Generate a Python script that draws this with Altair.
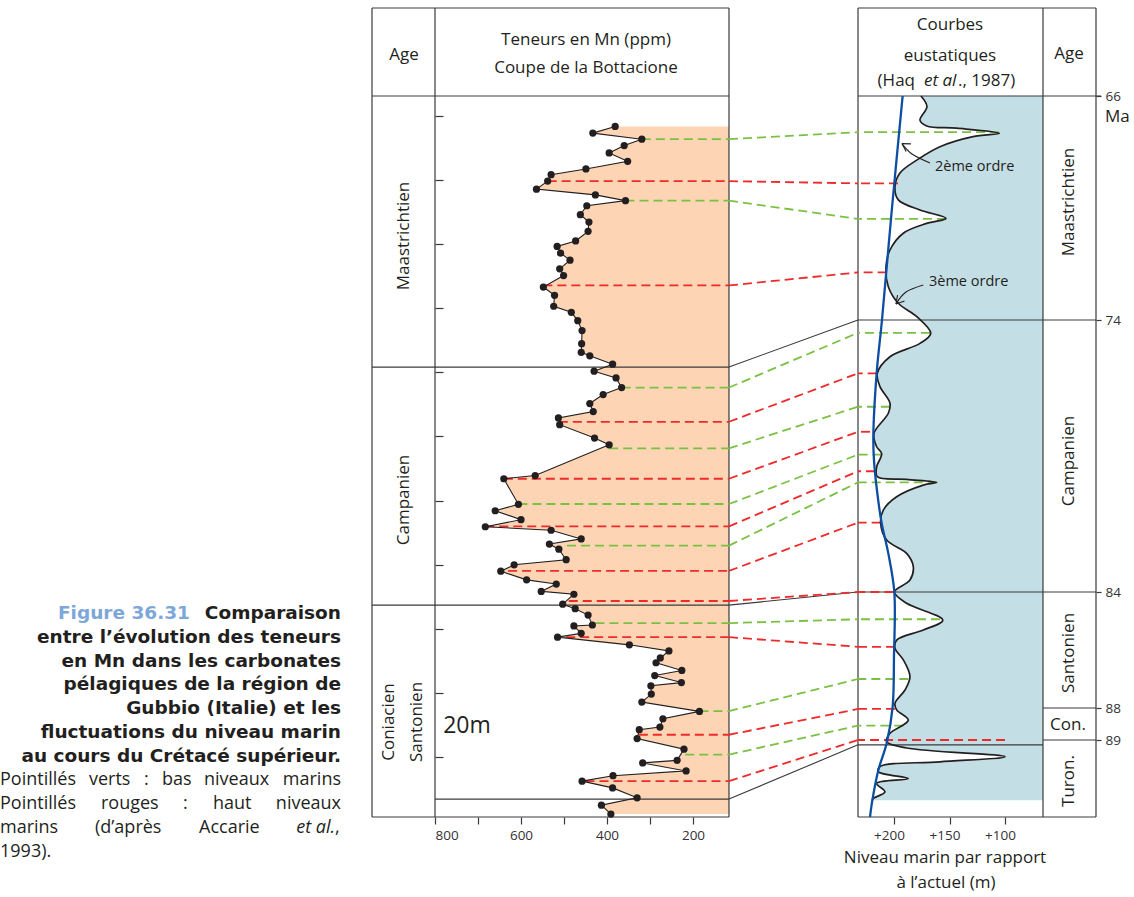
import altair as alt
import numpy as np
import pandas as pd

# ---------------- data ----------------
# Mn content (ppm) vs. stratigraphic height (m) in the Bottaccione section
MN_PPM = [381, 433, 319, 360, 395, 352, 449, 530, 538, 564, 427, 357, 447, 462, 442, 444,
          473, 516, 508, 486, 510, 501, 548, 522, 524, 483, 468, 458, 459, 460, 440, 387,
          430, 379, 366, 409, 440, 432, 513, 510, 429, 395, 567, 640, 606, 660, 600, 683,
          530, 460, 534, 512, 495, 616, 647, 587, 518, 553, 477, 503, 474, 444, 434, 477,
          460, 515, 348, 256, 276, 286, 226, 289, 227, 298, 297, 319, 185, 270, 277, 325,
          330, 221, 237, 317, 216, 386, 458, 387, 330, 413, 391]
MN_H = [216.9, 214.8, 212.9, 210.9, 208.6, 206.0, 203.6, 201.8, 199.8, 197.3, 195.5, 193.7,
        192.1, 189.3, 187.0, 184.1, 181.1, 179.4, 177.3, 175.1, 172.4, 170.3, 166.7, 164.1,
        160.7, 158.8, 156.2, 153.1, 149.0, 146.3, 145.2, 142.6, 140.4, 138.3, 135.3, 133.1,
        130.3, 127.8, 125.8, 123.7, 119.5, 117.4, 107.8, 106.8, 98.8, 96.8, 94.0, 91.8,
        90.7, 88.0, 86.4, 84.8, 81.5, 79.9, 77.9, 75.2, 73.9, 71.6, 70.7, 67.6, 66.2, 64.2,
        61.1, 60.8, 58.5, 57.3, 54.9, 53.0, 50.8, 49.3, 46.9, 45.3, 43.1, 42.1, 39.5, 37.0,
        34.1, 31.8, 29.2, 28.4, 25.6, 22.3, 18.8, 18.0, 15.5, 14.0, 12.3, 10.2, 7.1, 4.8, 2.0]

# 3rd-order eustatic curve (sea level above present, m) vs. age (Ma)
EUS_SL = [175.7, 170.3, 176.6, 170.5, 143.5, 105.1, 128.8, 158.6, 179.5, 194.6, 199.1, 196.1,
          176.6, 153.2, 170.5, 191.6, 203.6, 207.2, 205.1, 196.1, 179.5, 166.9, 176.6, 203.6,
          215.0, 212.6, 203.6, 205.1, 218.0, 215.6, 211.1, 215.6, 215.0, 188.6, 161.5, 173.6,
          197.6, 209.6, 212.0, 206.6, 188.6, 182.6, 185.6, 199.7, 188.6, 156.1, 173.6, 197.6,
          199.1, 191.6, 185.6, 190.1, 199.1, 197.6, 187.1, 203.6, 206.6, 188.6, 100.0, 158.6,
          212.6, 214.1, 187.1, 215.6, 208.1, 218.6, 219.5]
EUS_AGE = [66.0, 66.38, 66.86, 67.07, 67.15, 67.33, 67.45, 67.81, 68.29, 68.75, 69.24, 69.71,
           70.07, 70.37, 70.55, 70.90, 71.5, 72.1, 72.81, 73.4, 73.88, 74.49, 74.86, 75.35,
           75.96, 76.45, 77.06, 77.43, 78.17, 78.66, 78.91, 79.40, 79.76, 79.86, 79.97, 80.07,
           80.5, 80.99, 81.47, 82.09, 82.58, 83.07, 83.56, 84.0, 84.39, 84.97, 85.31, 85.66,
           85.94, 86.34, 86.92, 87.38, 87.84, 88.06, 88.38, 88.79, 89.05, 89.25, 89.52, 89.68,
           89.83, 89.99, 90.2, 90.35, 90.62, 90.82, 90.88]

# 2nd-order trend (blue line)
TREND_SL = [192.2, 201.8, 210.8, 215.6, 218.6, 218.0, 215.0, 211.1, 205.1, 199.7, 200.0,
            201.2, 206.6, 214.1, 219.5, 221.6]
TREND_AGE = [66.0, 70.0, 74.0, 75.95, 78.29, 79.15, 80.37, 81.47, 82.58, 84.0, 86.23,
             87.96, 89.10, 89.94, 90.88, 91.4]

# correlations (dashed): kind, height in section, Mn at start, age, sea level at end
LINK_KIND = ["vert", "rouge", "vert", "rouge", "vert", "rouge", "vert", "rouge", "vert",
             "rouge", "vert", "rouge", "rouge", "vert", "rouge", "vert", "rouge", "vert", "rouge"]
LINK_H = [212.9, 199.8, 193.7, 167.2, 135.3, 124.6, 116.3, 106.8, 98.9, 91.9, 85.9, 78.0,
          68.6, 61.7, 57.3, 34.2, 26.8, 20.6, 12.3]
LINK_PPM = [319, 538, 357, 548, 366, 512, 395, 640, 606, 683, 493, 630, 489, 427, 495, 185,
            326, 218, 450]
LINK_AGE = [67.29, 69.12, 70.39, 72.30, 74.47, 75.96, 77.19, 78.11, 78.95, 79.56, 79.97,
            81.45, 84.0, 84.94, 85.89, 87.0, 88.03, 88.55, 89.0]
LINK_SL = [105.4, 196.4, 153.2, 206.6, 167.6, 215.6, 203.6, 221.6, 211.1, 217.1, 161.5,
           212.0, 200.6, 158.6, 199.1, 187.1, 199.1, 191.6, 100.0]

# stage boundaries: height in section <-> age
STAGE_H = [141.7, 67.3, 6.7]
STAGE_AGE = [74.0, 84.0, 89.15]
AGE_COL_LINES = [74, 84, 88, 89]

DEPTH_TICKS = [20, 40, 60, 80, 100, 120, 140, 160, 180, 200, 220]
MN_TICKS = [800, 700, 600, 500, 400, 300, 200]
SL_TICKS = [200, 150, 100]
AGE_TICKS = [66, 74, 84, 88, 89]

# annotation arrows (sea level, age): shafts, then head barbs (tip -> barb end)
ARROW1_SL = [167.6, 183.8, 192.8]
ARROW1_AGE = [68.39, 68.07, 67.70]
ARROW2_SL = [173.6, 189.2, 198.2]
ARROW2_AGE = [72.75, 73.0, 73.43]
BARB_TIP_SL = [192.8, 192.8, 198.2, 198.2]
BARB_TIP_AGE = [67.70, 67.70, 73.43, 73.43]
BARB_END_SL = [184.7, 189.1, 190.5, 196.8]
BARB_END_AGE = [67.71, 67.98, 73.32, 73.11]

# ---------------- scales / layout ----------------
W, H = 1134, 897
FONT = "Open Sans"
CAP_FONT = "DejaVu Sans"
INK = "#231f20"
FRAME = "#3a3a3a"
MN_DOMAIN, MN_RANGE = [800, 116.3], [435, 729]
H_DOMAIN, H_RANGE = [1.1, 226.4], [817, 96]
SL_DOMAIN, SL_RANGE = [232.4, 65.8], [858, 1043]
AGE_DOMAIN = [66, 74, 84, 88, 89, 91.4]
AGE_RANGE = [96, 320, 592, 708, 740, 817]

MN_SCALE = alt.Scale(domain=MN_DOMAIN, range=MN_RANGE, zero=False, nice=False)
H_SCALE = alt.Scale(domain=H_DOMAIN, range=H_RANGE, zero=False, nice=False)
SL_SCALE = alt.Scale(domain=SL_DOMAIN, range=SL_RANGE, zero=False, nice=False)
AGE_SCALE = alt.Scale(domain=AGE_DOMAIN, range=AGE_RANGE, zero=False, nice=False)


def h_as_age(h):
    """Express a section height as the age that sits at the same height on the page."""
    px = np.interp(h, H_DOMAIN, H_RANGE)
    return np.interp(px, AGE_RANGE, AGE_DOMAIN)


ONE = pd.DataFrame({"k": [0]})


def hline(x0, x1, y, color=FRAME, w=1.2):
    return alt.Chart(ONE).mark_rule(color=color, strokeWidth=w).encode(
        x=alt.value(x0), x2=alt.value(x1), y=alt.value(y))


def vline(x, y0, y1, color=FRAME, w=1.2):
    return alt.Chart(ONE).mark_rule(color=color, strokeWidth=w).encode(
        x=alt.value(x), y=alt.value(y0), y2=alt.value(y1))


def label(text, x, y, size=16, angle=0, align="center", color=INK, weight="normal",
          style="normal", font=FONT):
    return alt.Chart(ONE).mark_text(
        text=text, fontSize=size, angle=angle, align=align, baseline="middle",
        color=color, fontWeight=weight, fontStyle=style, font=font).encode(
        x=alt.value(x), y=alt.value(y))


layers = []

# ---------------- left panel: Mn ----------------
mn_df = pd.DataFrame({"ppm": MN_PPM, "h": MN_H, "i": range(len(MN_PPM))})
layers.append(
    alt.Chart(mn_df).mark_area(orient="horizontal", color="#FDD5B4").encode(
        y=alt.Y("h:Q", scale=H_SCALE,
                axis=alt.Axis(orient="right", offset=435 - W, values=DEPTH_TICKS,
                              labels=False, tickSize=8, domain=False, grid=False,
                              title=None, tickColor=FRAME, tickWidth=1.2)),
        x=alt.X("ppm:Q", scale=MN_SCALE,
                axis=alt.Axis(orient="bottom", offset=-80, values=MN_TICKS,
                              labelExpr="datum.value % 200 == 0 ? datum.label : ''",
                              tickSize=7, domain=False, grid=False, title=None,
                              labelFontSize=13.5, labelColor="#333", tickColor=FRAME,
                              tickWidth=1.2, labelFont=FONT, labelPadding=4)),
        x2=alt.datum(MN_DOMAIN[1]))
)

# ---------------- right panel: eustatic fill ----------------
eus_df = pd.DataFrame({"sl": EUS_SL, "age": EUS_AGE, "i": range(len(EUS_SL))})
layers.append(
    alt.Chart(eus_df).mark_area(orient="horizontal", interpolate="catmull-rom",
                                color="#C4DEE5").encode(
        y=alt.Y("age:Q", scale=AGE_SCALE,
                axis=alt.Axis(orient="right", offset=1096 - W, values=AGE_TICKS,
                              tickSize=5, domain=False, grid=False, title=None,
                              labelFontSize=13.5, labelColor="#333", tickColor=FRAME,
                              tickWidth=1.2, labelFont=FONT, labelPadding=4)),
        x=alt.X("sl:Q", scale=SL_SCALE,
                axis=alt.Axis(orient="bottom", offset=-80, values=SL_TICKS,
                              labelExpr="'+' + datum.label", labelOffset=-5,
                              tickSize=7, domain=False, grid=False, title=None,
                              labelFontSize=13.5, labelColor="#333", tickColor=FRAME,
                              tickWidth=1.2, labelFont=FONT, labelPadding=4)),
        x2=alt.datum(SL_DOMAIN[1]))
)

# ---------------- frames ----------------
for y in (8, 96, 817):
    layers.append(hline(372, 729, y))
for x in (372, 435, 729):
    layers.append(vline(x, 8, 817))
for y in (8, 817):
    layers.append(hline(858, 1096, y))
layers.append(hline(858, 1101, 96))
for x in (858, 1043, 1096):
    layers.append(vline(x, 8, 817))

# stage boundaries, left
stage_df = pd.DataFrame({"h": STAGE_H, "age": STAGE_AGE})
stage_df["age_eq"] = h_as_age(stage_df["h"].to_numpy())
layers.append(
    alt.Chart(stage_df.iloc[:2]).mark_rule(color=FRAME, strokeWidth=1.2).encode(
        x=alt.value(372), x2=alt.value(729),
        y=alt.Y("h:Q", scale=H_SCALE, axis=None)))
layers.append(
    alt.Chart(stage_df.iloc[2:]).mark_rule(color=FRAME, strokeWidth=1.2).encode(
        x=alt.value(435), x2=alt.value(729),
        y=alt.Y("h:Q", scale=H_SCALE, axis=None)))
# stage boundaries, right (curve panel and age column)
layers.append(
    alt.Chart(stage_df).mark_rule(color=FRAME, strokeWidth=1.2).encode(
        x=alt.value(858), x2=alt.value(1043),
        y=alt.Y("age:Q", scale=AGE_SCALE, axis=None)))
layers.append(
    alt.Chart(pd.DataFrame({"age": AGE_COL_LINES})).mark_rule(
        color=FRAME, strokeWidth=1.2).encode(
        x=alt.value(1043), x2=alt.value(1096),
        y=alt.Y("age:Q", scale=AGE_SCALE, axis=None)))
# solid links between the two columns
layers.append(
    alt.Chart(stage_df).mark_rule(color=FRAME, strokeWidth=1.1).encode(
        x=alt.value(729), x2=alt.value(858),
        y=alt.Y("age_eq:Q", scale=AGE_SCALE, axis=None), y2="age:Q"))

# ---------------- dashed correlations ----------------
link_df = pd.DataFrame({"kind": LINK_KIND, "h": LINK_H, "ppm": LINK_PPM,
                        "age": LINK_AGE, "sl": LINK_SL})
link_df["age_eq"] = h_as_age(link_df["h"].to_numpy())
link_color = alt.Color("kind:N", legend=None,
                       scale=alt.Scale(domain=["vert", "rouge"],
                                       range=["#7AC143", "#EE2B2B"]))
dash = dict(strokeDash=[9, 5], strokeWidth=1.8)
layers.append(
    alt.Chart(link_df).mark_rule(**dash).encode(
        x=alt.X("ppm:Q", scale=MN_SCALE, axis=None), x2=alt.datum(MN_DOMAIN[1]),
        y=alt.Y("h:Q", scale=H_SCALE, axis=None), color=link_color))
layers.append(
    alt.Chart(link_df).mark_rule(**dash).encode(
        x=alt.value(729), x2=alt.value(858),
        y=alt.Y("age_eq:Q", scale=AGE_SCALE, axis=None), y2="age:Q", color=link_color))
layers.append(
    alt.Chart(link_df).mark_rule(**dash).encode(
        x=alt.X("sl:Q", scale=SL_SCALE, axis=None), x2=alt.datum(SL_DOMAIN[0]),
        y=alt.Y("age:Q", scale=AGE_SCALE, axis=None), color=link_color))

# ---------------- curves ----------------
layers.append(
    alt.Chart(eus_df).mark_line(interpolate="catmull-rom", color=INK, strokeWidth=1.7).encode(
        x=alt.X("sl:Q", scale=SL_SCALE, axis=None),
        y=alt.Y("age:Q", scale=AGE_SCALE, axis=None), order="i:Q"))
trend_df = pd.DataFrame({"sl": TREND_SL, "age": TREND_AGE, "i": range(len(TREND_SL))})
layers.append(
    alt.Chart(trend_df).mark_line(interpolate="catmull-rom", color="#0B4EA2",
                                  strokeWidth=2.3).encode(
        x=alt.X("sl:Q", scale=SL_SCALE, axis=None),
        y=alt.Y("age:Q", scale=AGE_SCALE, axis=None), order="i:Q"))
layers.append(
    alt.Chart(mn_df).mark_line(color=INK, strokeWidth=1.1).encode(
        x=alt.X("ppm:Q", scale=MN_SCALE, axis=None),
        y=alt.Y("h:Q", scale=H_SCALE, axis=None), order="i:Q"))
layers.append(
    alt.Chart(mn_df).mark_circle(size=52, color=INK, opacity=1).encode(
        x=alt.X("ppm:Q", scale=MN_SCALE, axis=None),
        y=alt.Y("h:Q", scale=H_SCALE, axis=None)))

# ---------------- annotation arrows ----------------
for sls, ages in ((ARROW1_SL, ARROW1_AGE), (ARROW2_SL, ARROW2_AGE)):
    adf = pd.DataFrame({"sl": sls, "age": ages, "i": range(len(sls))})
    layers.append(
        alt.Chart(adf).mark_line(interpolate="cardinal", color=INK, strokeWidth=1.1).encode(
            x=alt.X("sl:Q", scale=SL_SCALE, axis=None),
            y=alt.Y("age:Q", scale=AGE_SCALE, axis=None), order="i:Q"))
barb_df = pd.DataFrame({"sl0": BARB_TIP_SL, "a0": BARB_TIP_AGE,
                        "sl1": BARB_END_SL, "a1": BARB_END_AGE})
layers.append(
    alt.Chart(barb_df).mark_rule(color=INK, strokeWidth=1.1).encode(
        x=alt.X("sl0:Q", scale=SL_SCALE, axis=None), x2="sl1:Q",
        y=alt.Y("a0:Q", scale=AGE_SCALE, axis=None), y2="a1:Q"))

# ---------------- texts ----------------
layers += [
    label("Age", 404, 55, 17),
    label("Teneurs en Mn (ppm)", 586, 40, 17),
    label("Coupe de la Bottacione", 586, 68, 17),
    label("Courbes", 950, 25, 17),
    label("eustatiques", 950, 56, 17),
    label("(Haq", 915, 81, 17, align="right"),
    label("et al", 924, 81, 17, align="left", style="italic"),
    label("., 1987)", 958, 81, 17, align="left"),
    label("Age", 1069, 54, 17),
    label("Maastrichtien", 404, 236, 17, angle=270),
    label("Campanien", 404, 500, 17, angle=270),
    label("Coniacien", 389, 722, 17, angle=270),
    label("Santonien", 417, 722, 17, angle=270),
    label("20m", 467, 726, 23),
    label("Maastrichtien", 1069, 202, 17, angle=270),
    label("Campanien", 1069, 461, 17, angle=270),
    label("Santonien", 1069, 653, 17, angle=270),
    label("Con.", 1068, 725, 17),
    label("Turon.", 1069, 781, 17, angle=270),
    label("Ma", 1105, 117, 17, align="left"),
    label("2ème ordre", 935, 167, 14.5, align="left"),
    label("3ème ordre", 929, 282, 14.5, align="left"),
    label("Niveau marin par rapport", 945, 858, 17),
    label("à l\u2019actuel (m)", 946, 883, 17),
]

CAP_BLUE = "#7DA7D9"
CAP_SIZE = 18.5
cap_lines = ["entre l\u2019évolution des teneurs", "en Mn dans les carbonates",
             "pélagiques de la région de", "Gubbio (Italie) et les",
             "fluctuations du niveau marin", "au cours du Crétacé supérieur."]
layers.append(label("Figure 36.31", 190, 613, CAP_SIZE, align="right", color=CAP_BLUE,
                    weight="bold", font=CAP_FONT))
layers.append(label("Comparaison", 341, 613, CAP_SIZE, align="right", weight="bold",
                    font=CAP_FONT))
for k, t in enumerate(cap_lines):
    layers.append(label(t, 341, 637 + 23.7 * k, CAP_SIZE, align="right", weight="bold",
                        font=CAP_FONT))

NS = 18
layers += [
    label("Pointillés", 0, 780, NS, align="left"),
    label("verts", 89, 780, NS, align="left"),
    label(":", 144, 780, NS, align="left"),
    label("bas", 162, 780, NS, align="left"),
    label("niveaux", 204, 780, NS, align="left"),
    label("marins", 341, 780, NS, align="right"),
    label("Pointillés", 0, 804, NS, align="left"),
    label("rouges", 101, 804, NS, align="left"),
    label(":", 183, 804, NS, align="left"),
    label("haut", 213, 804, NS, align="left"),
    label("niveaux", 341, 804, NS, align="right"),
    label("marins", 0, 828, NS, align="left"),
    label("(d\u2019après", 95, 828, NS, align="left"),
    label("Accarie", 199, 828, NS, align="left"),
    label("et al.", 335, 828, NS, align="right", style="italic"),
    label(",", 335, 828, NS, align="left"),
    label("1993).", 0, 852, NS, align="left"),
]

chart = alt.layer(*layers).resolve_scale(
    x="independent", y="independent").properties(
    width=W, height=H, autosize=alt.AutoSizeParams(type="none"), padding=0,
    background="white").configure_view(stroke=None)

chart.save("out.html", embed_options={"renderer": "svg", "actions": False})
